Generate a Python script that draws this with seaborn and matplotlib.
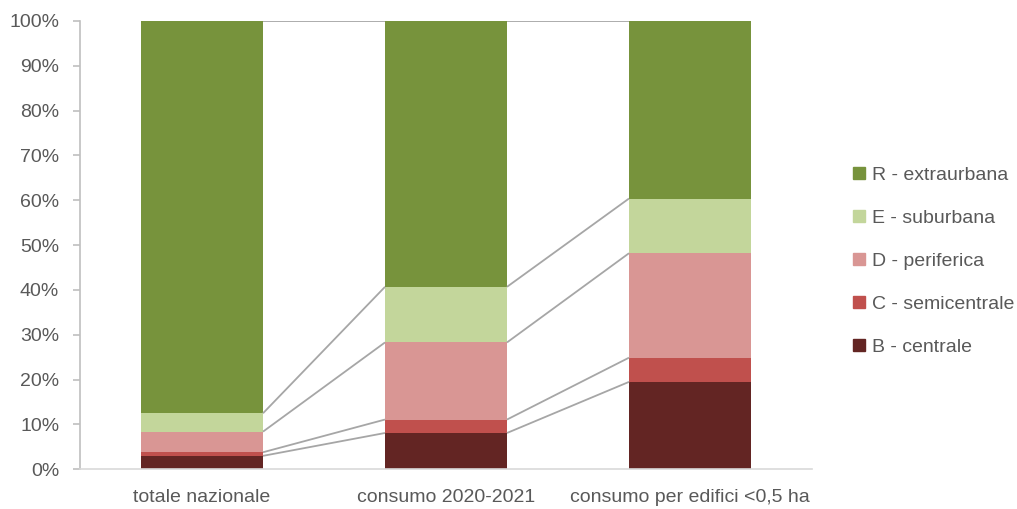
import matplotlib
matplotlib.use("Agg")
import matplotlib.pyplot as plt
import seaborn as sns
import pandas as pd
import numpy as np
from matplotlib.lines import Line2D
from matplotlib.ticker import PercentFormatter

categories = ["totale nazionale", "consumo 2020-2021", "consumo per edifici <0,5 ha"]
series_names = ["B - centrale", "C - semicentrale", "D - periferica", "E - suburbana", "R - extraurbana"]
B_centrale = [3.0, 8.1, 19.5]
C_semicentrale = [0.8, 3.0, 5.4]
D_periferica = [4.6, 17.2, 23.3]
E_suburbana = [4.1, 12.4, 12.2]
R_extraurbana = [87.5, 59.3, 39.6]

colors = ["#632523", "#C0504D", "#D99694", "#C3D69B", "#77933C"]

sns.set_theme(style="white")
plt.rcParams['font.family'] = ['Liberation Sans', 'DejaVu Sans']

values = [B_centrale, C_semicentrale, D_periferica, E_suburbana, R_extraurbana]
cum = np.cumsum(np.array(values), axis=0)

fig = plt.figure(figsize=(10.17, 5.09), dpi=100)
ax = fig.add_axes([80/1017, 1 - 469.3/509, (812-80)/1017, (469.3-21)/509])

# draw from top cumulative down so smaller stacks overlay
for k in range(len(series_names) - 1, -1, -1):
    df = pd.DataFrame({"cat": categories, "val": cum[k]})
    sns.barplot(data=df, x="cat", y="val", color=colors[k], width=0.5,
                saturation=1, ax=ax, linewidth=0, zorder=2)

# connector lines
w = 0.25
for k in range(len(series_names)):
    for i in range(len(categories) - 1):
        ax.plot([i + w, i + 1 - w], [cum[k][i], cum[k][i + 1]],
                color="#A6A6A6", lw=1.3, zorder=3, solid_capstyle="butt")

ax.set_ylim(0, 100)
ax.set_xlim(-0.5, 2.5)
ax.set_yticks(np.arange(0, 101, 10))
ax.yaxis.set_major_formatter(PercentFormatter(decimals=0))
ax.set_xlabel("")
ax.set_ylabel("")

for s in ["top", "right"]:
    ax.spines[s].set_visible(False)
ax.spines["left"].set_color("#BFBFBF")
ax.spines["bottom"].set_color("#D9D9D9")
ax.spines["left"].set_linewidth(1.2)
ax.spines["bottom"].set_linewidth(1.2)

fs = 14.0
ax.tick_params(axis="y", left=True, length=5, width=1.2, color="#BFBFBF",
               labelsize=fs, labelcolor="#595959", pad=10)
ax.tick_params(axis="x", bottom=False, labelsize=fs, labelcolor="#595959", pad=8)

handles = [Line2D([0], [0], marker="s", linestyle="none", markersize=9,
                  markerfacecolor=colors[k], markeredgecolor=colors[k])
           for k in range(len(series_names) - 1, -1, -1)]
labels = [series_names[k] for k in range(len(series_names) - 1, -1, -1)]
leg = fig.legend(handles, labels, loc="center left", bbox_to_anchor=(840/1017, 1 - 261/509),
                 frameon=False, fontsize=fs, labelspacing=1.3, handletextpad=0.05,
                 handlelength=1.2, borderaxespad=0)
for t in leg.get_texts():
    t.set_color("#595959")

fig.savefig("out.png", dpi=100)
